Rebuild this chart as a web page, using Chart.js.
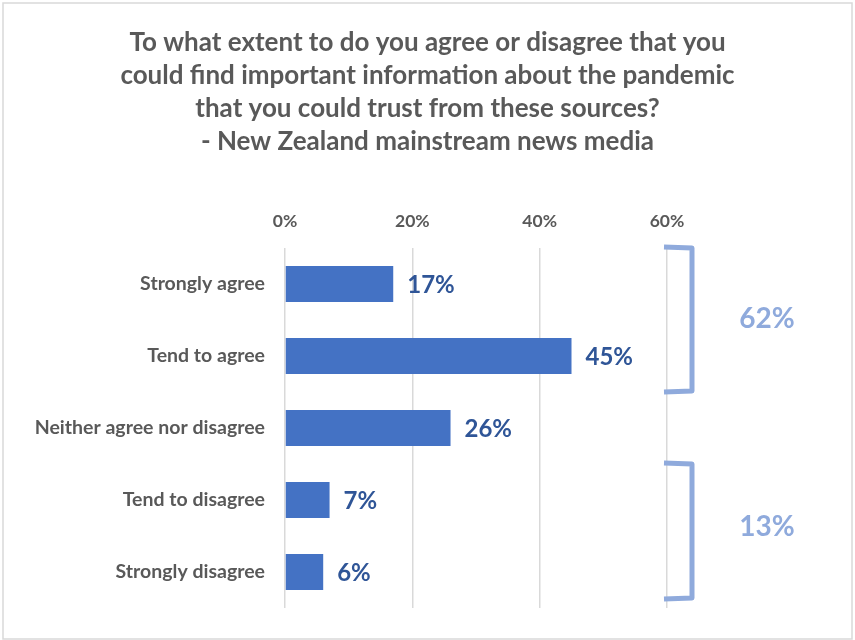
<!DOCTYPE html>
<html>
<head>
<meta charset="utf-8">
<title>Trust in New Zealand mainstream news media</title>
<script src="https://cdn.jsdelivr.net/npm/chart.js@4/dist/chart.umd.min.js"></script>
<style>
  html, body { margin: 0; padding: 0; background: #ffffff; }
  #wrap { position: relative; width: 855px; height: 640px; }
</style>
</head>
<body>
<div id="wrap"><canvas id="chart" width="855" height="640"></canvas></div>
<script>
// Survey responses
const categories = [
  'Strongly agree',
  'Tend to agree',
  'Neither agree nor disagree',
  'Tend to disagree',
  'Strongly disagree'
];
const percentages = [17, 45, 26, 7, 6];
const tickValues = [0, 20, 40, 60];
const titleLines = [
  'To what extent to do you agree or disagree that you',
  'could find important information about the pandemic',
  'that you could trust from these sources?',
  '- New Zealand mainstream news media'
];
// Net agree / net disagree groups (category index ranges)
const groupStart = [0, 3];
const groupEnd = [1, 4];

const FONT = 'Lato, "Open Sans", "Noto Sans", sans-serif';
const BAR_BLUE = '#4472C4';
const LABEL_BLUE = '#2F5597';
const BRACKET_BLUE = '#8FAADC';
const GREY_TEXT = '#595959';

const frame = {
  id: 'frame',
  beforeDraw(chart) {
    const ctx = chart.ctx;
    ctx.save();
    ctx.fillStyle = '#ffffff';
    ctx.fillRect(0, 0, chart.width, chart.height);
    ctx.strokeStyle = '#d9d9d9';
    ctx.lineWidth = 1.5;
    ctx.strokeRect(3, 3, chart.width - 6, chart.height - 4);
    ctx.restore();
  }
};

const valueLabels = {
  id: 'valueLabels',
  afterDatasetsDraw(chart) {
    const ctx = chart.ctx;
    const meta = chart.getDatasetMeta(0);
    ctx.save();
    ctx.font = 'bold 24px ' + FONT;
    ctx.fillStyle = LABEL_BLUE;
    ctx.textAlign = 'left';
    ctx.textBaseline = 'middle';
    meta.data.forEach((bar, i) => {
      ctx.fillText(percentages[i] + '%', bar.x + 14, bar.y + 1);
    });
    ctx.restore();
  }
};

const groupBrackets = {
  id: 'groupBrackets',
  afterDraw(chart) {
    const ctx = chart.ctx;
    const y = chart.scales.y;
    const area = chart.chartArea;
    const band = (y.getPixelForValue(1) - y.getPixelForValue(0));
    const xL = area.right - 3;
    const xR = area.right + 25;
    ctx.save();
    groupStart.forEach((s, g) => {
      const e = groupEnd[g];
      const last = e === categories.length - 1;
      const top = y.getPixelForValue(s) - band / 2 - 1;
      const bot = y.getPixelForValue(e) + band / 2 - (last ? 10 : 1);
      ctx.strokeStyle = BRACKET_BLUE;
      ctx.lineWidth = 5;
      ctx.lineJoin = 'round';
      ctx.lineCap = 'butt';
      ctx.beginPath();
      ctx.moveTo(xL, top);
      ctx.lineTo(xR, top + 1);
      ctx.lineTo(xR, bot);
      ctx.lineTo(xL, bot + 1);
      ctx.stroke();
      let total = 0;
      for (let i = s; i <= e; i++) total += percentages[i];
      ctx.font = 'bold 28px ' + FONT;
      ctx.fillStyle = BRACKET_BLUE;
      ctx.textAlign = 'center';
      ctx.textBaseline = 'middle';
      ctx.fillText(total + '%', 767, (top + bot) / 2 - (last ? 4 : 0));
    });
    ctx.restore();
  }
};

new Chart(document.getElementById('chart'), {
  type: 'bar',
  data: {
    labels: categories,
    datasets: [{
      data: percentages,
      backgroundColor: BAR_BLUE,
      borderWidth: 0,
      barPercentage: 0.5,
      categoryPercentage: 1.0
    }]
  },
  options: {
    indexAxis: 'y',
    responsive: false,
    animation: false,
    devicePixelRatio: 1,
    layout: { padding: { top: 0, right: 0, bottom: 32, left: 0 } },
    plugins: {
      legend: { display: false },
      tooltip: { enabled: false },
      title: {
        display: true,
        text: titleLines,
        color: GREY_TEXT,
        font: { family: FONT, size: 26, weight: 'bold', lineHeight: 1.27 },
        padding: { top: 26, bottom: 40 }
      }
    },
    scales: {
      x: {
        position: 'top',
        min: 0,
        max: 60,
        afterBuildTicks(scale) {
          scale.ticks = tickValues.map(v => ({ value: v }));
        },
        afterFit(scale) { scale.height = 50; },
        ticks: {
          color: GREY_TEXT,
          font: { family: FONT, size: 17.5, weight: 'bold' },
          padding: 16,
          callback: v => v + '%'
        },
        grid: { color: '#d9d9d9', lineWidth: 1.5, drawTicks: false },
        border: { display: false }
      },
      y: {
        afterFit(scale) { scale.width = 285; },
        ticks: {
          color: GREY_TEXT,
          font: { family: FONT, size: 19.5, weight: 'bold' },
          padding: 20
        },
        grid: { display: false, drawTicks: false },
        border: { display: false }
      },
      // empty right-hand gutter that holds the group brackets
      gutter: {
        type: 'category',
        position: 'right',
        labels: categories,
        afterFit(scale) { scale.width = 188; },
        ticks: { display: false },
        grid: { display: false, drawTicks: false },
        border: { display: false }
      }
    }
  },
  plugins: [frame, valueLabels, groupBrackets]
});
</script>
</body>
</html>
